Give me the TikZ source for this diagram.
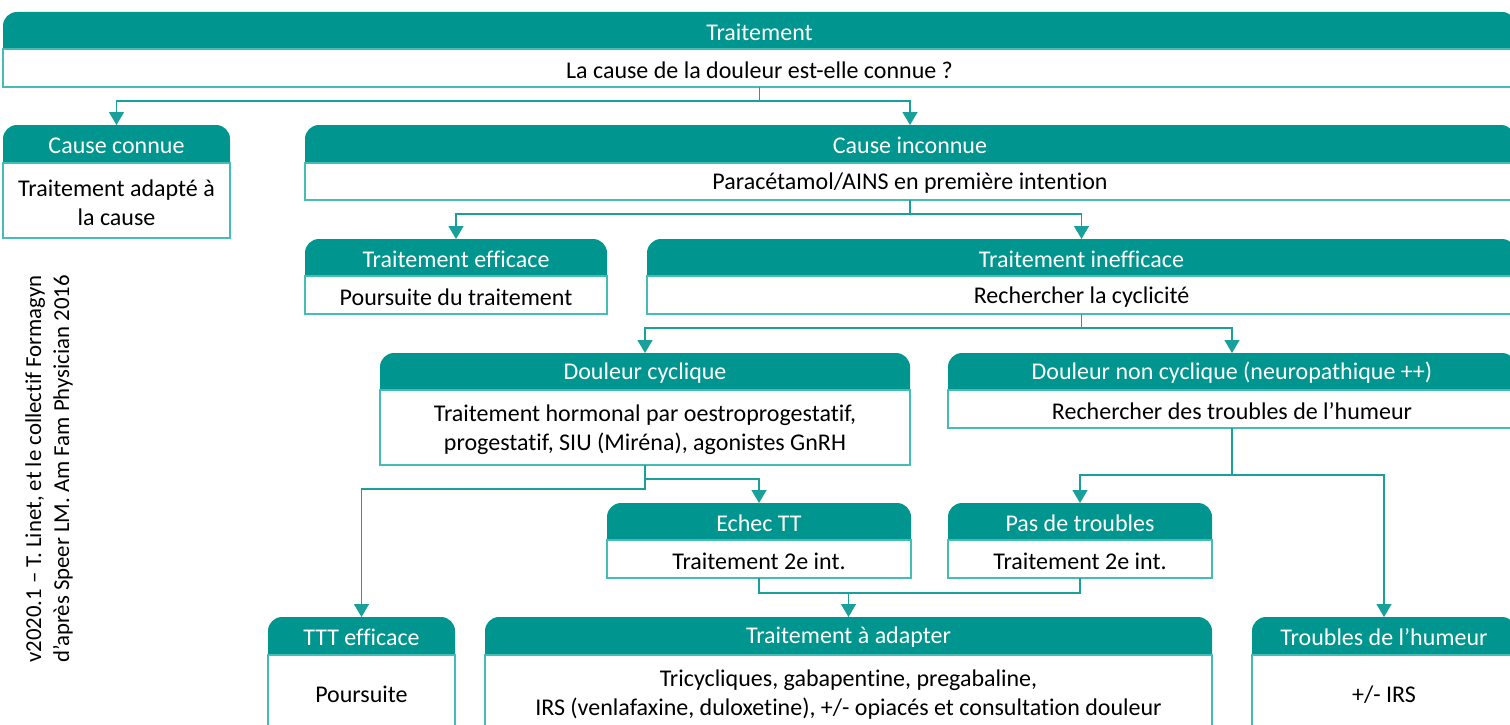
\documentclass[tikz,border=0pt]{standalone}
\usepackage{fontspec}
\setmainfont{Carlito}[Ligatures=NoCommon]
\usetikzlibrary{arrows.meta,backgrounds}
\definecolor{headteal}{RGB}{0,150,143}
\definecolor{bodyteal}{RGB}{70,188,183}
\definecolor{lineteal}{RGB}{25,160,154}
\tikzset{
  headbox/.style={inner sep=0pt, outer sep=0pt},
  headtext/.style={inner sep=0pt, text=white, font=\fontsize{24}{28}\selectfont},
  headfill/.style={fill=headteal},
  bodybox/.style={draw=bodyteal, line width=1.3pt, fill=white, inner sep=0pt, outer sep=0pt},
  bodytext/.style={inner sep=0pt, align=center, text=black, font=\fontsize{24}{29}\selectfont},
  conn/.style={draw=lineteal, line width=1.5pt},
  arr/.style={conn, -{Triangle[width=15pt,length=13pt]}},
}
\newcommand\flowbox[8]{%
  \pgfmathsetmacro\fbw{#5-#2}%
  \pgfmathsetmacro\fbhh{#4-#3}%
  \pgfmathsetmacro\fbbh{#6-#4}%
  \node[bodybox, minimum width=\fbw pt, minimum height=\fbbh pt, anchor=north west] (#1b) at (#2,#4) {};
  \node[bodytext] (#1bt) at ([yshift=-2pt]#1b.center) {#8};
  \node[headbox, minimum width=\fbw pt, minimum height=\fbhh pt, anchor=north west] (#1h) at (#2,#3) {};
  \node[headtext] (#1ht) at ([yshift=-1.5pt]#1h.center) {#7};
  \begin{pgfonlayer}{background}
    \fill[headfill] (#1h.south west) {[rounded corners=14pt] -- (#1h.north west) -- (#1h.north east)} -- (#1h.south east) -- cycle;
  \end{pgfonlayer}
}
\begin{document}
\begin{tikzpicture}[x=1pt,y=-1pt]
\useasboundingbox (0,0) rectangle (1510,725);

\flowbox{T}{3}{12}{49}{1516}{87}{Traitement}{La cause de la douleur est-elle connue ?}
\flowbox{CC}{3}{125}{163}{230}{238}{Cause connue}{Traitement adapté à\\la cause}
\flowbox{CI}{305}{125}{163}{1515}{200}{Cause inconnue}{Paracétamol/AINS en première intention}
\flowbox{TE}{305}{239}{276}{607}{314}{Traitement efficace}{Poursuite du traitement}
\flowbox{TI}{647}{239}{276}{1516}{314}{Traitement inefficace}{Rechercher la cyclicité}
\flowbox{DC}{380}{353}{390}{910}{465}{Douleur cyclique}{Traitement hormonal par oestroprogestatif,\\progestatif, SIU (Miréna), agonistes GnRH}
\flowbox{DNC}{948}{353}{390}{1516}{428}{Douleur non cyclique (neuropathique ++)}{Rechercher des troubles de l’humeur}
\flowbox{ET}{607}{503}{540}{911}{578}{Echec TT}{Traitement 2e int.}
\flowbox{PT}{948}{503}{540}{1212}{578}{Pas de troubles}{Traitement 2e int.}
\flowbox{TTT}{268}{617}{655}{455}{730}{TTT efficace}{Poursuite}
\flowbox{TA}{485}{617}{655}{1212}{730}{Traitement à adapter}{Tricycliques, gabapentine, pregabaline,\\IRS (venlafaxine, duloxetine), +/- opiacés et consultation douleur}
\flowbox{TH}{1252}{617}{655}{1516}{730}{Troubles de l’humeur}{+/- IRS}

\node[rotate=90, align=center, font=\fontsize{22.8}{28}\selectfont] (credit) at (49,469)
  {v2020.1 – T. Linet, et le collectif Formagyn\\d’après Speer LM. Am Fam Physician 2016};

% connectors
\draw[conn] (Tb.south) -- ++(0,14) coordinate (j1);
\draw[arr] (j1) -| (CCh.north);
\draw[arr] (j1) -| (CIh.north);

\draw[conn] (CIb.south) -- ++(0,14) coordinate (j2);
\draw[arr] (j2) -| (TEh.north);
\draw[arr] (j2) -| (TIh.north);

\draw[conn] (TIb.south) -- ++(0,14) coordinate (j3);
\draw[arr] (j3) -| (DCh.north);
\draw[arr] (j3) -| (DNCh.north);

\draw[arr] (DCb.south) -- ++(0,14) coordinate (j4) -| (ETh.north);
\draw[arr] (j4) -- ++(0,10) -| (TTTh.north);

\draw[conn] (DNCb.south) -- ++(0,47) coordinate (j5);
\draw[arr] (j5) -| (PTh.north);
\draw[arr] (j5) -| (THh.north);

\draw[conn] (ETb.south) -- ++(0,15) coordinate (j6) -| (PTb.south);
\draw[arr] (j6 -| TAh.north) -- (TAh.north);
\end{tikzpicture}
\end{document}
